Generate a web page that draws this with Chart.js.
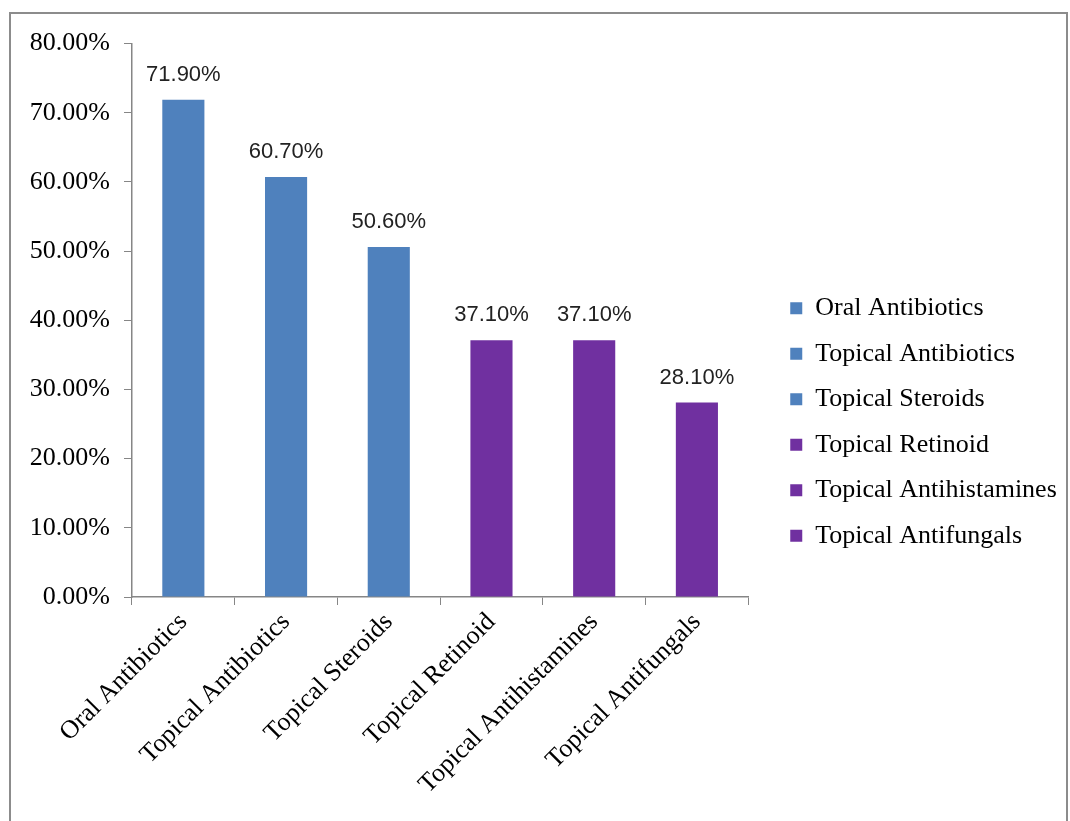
<!DOCTYPE html>
<html>
<head>
<meta charset="utf-8">
<script src="https://cdn.jsdelivr.net/npm/chart.js@4.4.1/dist/chart.umd.min.js"></script>
<style>
  body { margin: 0; background: #fff; }
  #frame {
    position: absolute;
    left: 9px;
    top: 12px;
    width: 1055px;
    height: 815px;
    border: 2px solid #8c8c8c;
  }
</style>
</head>
<body>
<div id="frame"><canvas id="chartUso" width="1055" height="807"></canvas></div>
<script>
// Dados
const categorias = [
  "Oral Antibiotics",
  "Topical Antibiotics",
  "Topical Steroids",
  "Topical Retinoid",
  "Topical Antihistamines",
  "Topical Antifungals",
];
const valores = [71.9, 60.7, 50.6, 37.1, 37.1, 28.1];
const cores = ["#4f81bd", "#4f81bd", "#4f81bd", "#7030a0", "#7030a0", "#7030a0"];
const ticksY = [0, 10, 20, 30, 40, 50, 60, 70, 80];

const serif = "'Liberation Serif', 'Times New Roman', serif";

// Rótulos acima das barras
const rotulos = {
  id: "rotulos",
  afterDatasetsDraw(chart) {
    const ctx = chart.ctx;
    const meta = chart.getDatasetMeta(0);
    ctx.save();
    ctx.fillStyle = "#222";
    ctx.font = "22px 'Liberation Sans', Arial, sans-serif";
    ctx.textAlign = "center";
    ctx.textBaseline = "alphabetic";
    meta.data.forEach((bar, i) => {
      ctx.fillText(valores[i].toFixed(2) + "%", bar.x, bar.y - 19);
    });
    ctx.restore();
  },
};

// Afasta a legenda do gráfico e sobe um pouco
const ajusteLegenda = {
  id: "ajusteLegenda",
  afterLayout(chart) {
    const lg = chart.legend;
    lg.left = chart.chartArea.right + 22.5;
    lg.right = chart.width;
    lg.width = lg.right - lg.left;
    lg.top -= 10;
    lg.bottom -= 10;
  },
};

const el = document.getElementById("chartUso");

new Chart(el, {
  type: "bar",
  data: {
    labels: categorias,
    datasets: [
      {
        label: "Uso",
        data: valores,
        backgroundColor: cores,
        barPercentage: 0.41,
        categoryPercentage: 1,
      },
    ],
  },
  options: {
    responsive: false,
    animation: false,
    layout: {
      padding: { top: 29, left: 0, right: 72, bottom: 0 },
    },
    plugins: {
      legend: {
        position: "right",
        align: "center",
        labels: {
          boxWidth: 12,
          boxHeight: 12,
          padding: 19.5,
          color: "#000",
          font: { family: serif, size: 26 },
          generateLabels: () =>
            categorias.map((c, i) => ({
              text: c,
              fillStyle: cores[i],
              strokeStyle: cores[i],
              lineWidth: 0,
              index: i,
            })),
        },
        onClick: null,
      },
      tooltip: { enabled: false },
    },
    scales: {
      x: {
        afterFit: (s) => {
          s.height = 224;
        },
        grid: {
          display: true,
          drawOnChartArea: false,
          offset: true,
          tickLength: 8,
          color: "#868686",
        },
        border: { color: "#868686", width: 1.5 },
        ticks: {
          color: "#000",
          minRotation: 45,
          maxRotation: 45,
          padding: 2,
          font: { family: serif, size: 26 },
        },
      },
      y: {
        min: 0,
        max: 80,
        afterFit: (s) => {
          s.width = 121;
        },
        afterBuildTicks: (s) => {
          s.ticks = ticksY.map((v) => ({ value: v }));
        },
        grid: {
          display: true,
          drawOnChartArea: false,
          tickLength: 8,
          color: "#868686",
        },
        border: { color: "#868686", width: 1.5 },
        ticks: {
          color: "#000",
          padding: 14,
          font: { family: serif, size: 26 },
          callback: (v) => Number(v).toFixed(2) + "%",
        },
      },
    },
  },
  plugins: [rotulos, ajusteLegenda],
});
</script>
</body>
</html>
